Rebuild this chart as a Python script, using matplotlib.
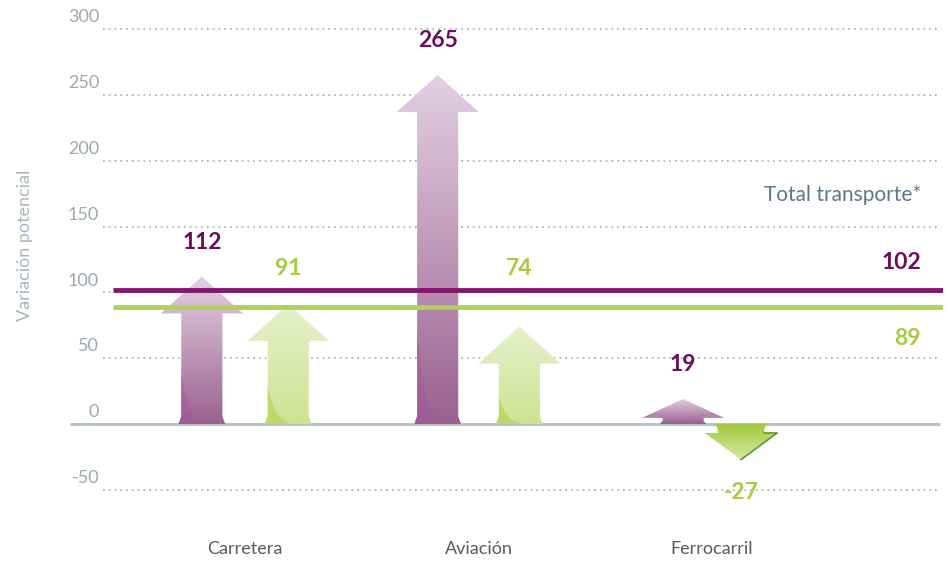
import numpy as np
import matplotlib.pyplot as plt
from matplotlib.patches import Polygon
from matplotlib.colors import LinearSegmentedColormap

# data
categories = ["Carretera", "Aviación", "Ferrocarril"]
serie_morada = [112, 265, 19]
serie_verde = [91, 74, -27]
total_morado = 102
total_verde = 89
ticks = [300, 250, 200, 150, 100, 50, 0, -50]

# colours
morado = "#85166c"
morado_txt = "#6d0f5a"
verde = "#afd15a"
verde_txt = "#a6cc45"
gris_tick = "#9ba8af"
gris_grid = "#a9b8c0"

fig = plt.figure(figsize=(9.48, 5.61), dpi=100)
ax = fig.add_axes([70 / 948, 0.0093, 873 / 948, 0.9626])
ax.set_xlim(-0.7495, 2.989)
ax.set_ylim(-100, 310)
ax.axis("off")

plt.rcParams["font.family"] = ["Lato", "DejaVu Sans"]

# dotted grid + tick labels
for t in ticks:
    if t == 0:
        ax.plot([-0.7495, 2.975], [0, 0], color="#b5c4cc", lw=2.2, zorder=1,
                solid_capstyle="butt")
    else:
        ax.plot([-0.61, 2.975], [t, t], color=gris_grid, lw=1.3,
                linestyle=(0, (1, 2.2)), zorder=1)
    ax.text(-0.625, t + 9, str(t), ha="right", va="center", fontsize=13,
            color=gris_tick)

fig.text(0.026, 0.563, "Variación potencial", rotation=90, ha="center",
         va="center", fontsize=13, color="#aab5bb")


def arrow_pts(c, v, sw, hw):
    s = 1 if v > 0 else -1
    L = abs(v)
    hl = min(28, 0.75 * L)
    se = s * (L - hl)
    fl = 0.012
    fh = s * min(6, 0.5 * (L - hl))
    return [(c - sw / 2 - fl, 0), (c - sw / 2, fh), (c - sw / 2, se),
            (c - hw / 2, se), (c, v), (c + hw / 2, se), (c + sw / 2, se),
            (c + sw / 2, fh), (c + sw / 2 + fl, 0)], se


def draw_arrow(c, v, top_col, bot_col, corner_col, sw=0.176, hw=0.351):
    pts, se = arrow_pts(c, v, sw, hw)
    poly = Polygon(pts, closed=True, facecolor="none", edgecolor="none")
    ax.add_patch(poly)
    cmap = LinearSegmentedColormap.from_list("g", [bot_col, top_col])
    grad = np.linspace(0, 1, 256).reshape(-1, 1)
    if v < 0:
        grad = grad[::-1]
    y0, y1 = (0, v) if v > 0 else (v, 0)
    im = ax.imshow(grad, cmap=cmap, extent=[c - hw / 2, c + hw / 2, y0, y1],
                   origin="lower", aspect="auto", zorder=2)
    im.set_clip_path(poly)
    if v > 0 and corner_col:
        H = min(0.45 * abs(se), 70)
        s = np.linspace(0, 1, 40)
        xl = c - sw / 2
        cx = xl + s * sw * 0.85
        cy = H * (1 - s) ** 4
        cpts = [(xl - 0.012, 0)] + list(zip(cx, cy)) + [(c + sw / 2 + 0.01, 0)]
        corner = Polygon(cpts, closed=True, facecolor=corner_col,
                         edgecolor="none", alpha=0.6, zorder=3)
        ax.add_patch(corner)
        corner.set_clip_path(poly)
    if v < 0:
        ax.plot([c + sw / 2, c + hw / 2, c], [se, se, v], color="#5c9a36",
                lw=1.2, zorder=3)


offsets = [0.185, 0.175, 0.124]
for i, cat in enumerate(categories):
    xm = i - offsets[i]
    xv = i + offsets[i]
    draw_arrow(xm, serie_morada[i], "#e3d1e2", "#9a6190", "#a4589a")
    vv = serie_verde[i]
    if vv > 0:
        draw_arrow(xv, vv, "#e7f0cd", "#cfe291", "#b0d245")
    else:
        draw_arrow(xv, vv, "#d5e8a4", "#a3ca3c", None, sw=0.2, hw=0.31)
    ax.text(xm, serie_morada[i] + 26, str(serie_morada[i]), ha="center",
            va="center", fontsize=16.5, fontweight="bold", color=morado_txt)
    # keep green labels clear of the total lines
    ly = max(vv + 26, total_morado + 16) if vv > 0 else vv - 25
    ax.text(xv, ly, str(vv), ha="center", va="center", fontsize=16.5,
            fontweight="bold", color=verde_txt)
    ax.text(i, -95, cat, ha="center", va="center", fontsize=13,
            color="#5a5a5a")

# totals
ax.plot([-0.565, 2.989], [total_morado, total_morado], color=morado, lw=3.5,
        zorder=4, solid_capstyle="butt")
ax.plot([-0.565, 2.989], [total_verde, total_verde], color=verde, lw=3.5,
        zorder=4, solid_capstyle="butt")
ax.text(2.895, total_morado + 21, str(total_morado), ha="right", va="center",
        fontsize=16.5, fontweight="bold", color=morado_txt)
ax.text(2.895, total_verde - 24, str(total_verde), ha="right", va="center",
        fontsize=16.5, fontweight="bold", color=verde_txt)
ax.text(2.895, 174, "Total transporte*", ha="right", va="center",
        fontsize=15, color="#5d7885")

plt.savefig("out.png", dpi=100)
